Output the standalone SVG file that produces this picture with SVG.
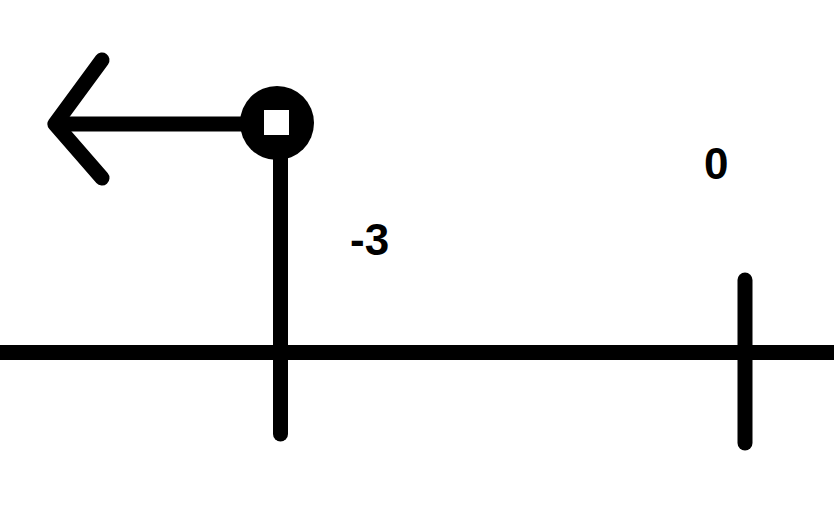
<svg xmlns="http://www.w3.org/2000/svg" width="834" height="520" viewBox="0 0 834 520">
  <style>
    .ln { stroke: #000; stroke-width: 15; fill: none; }
    .rc { stroke-linecap: round; stroke-linejoin: round; }
    .lbl { font-family: "Liberation Sans", Arial, sans-serif; font-weight: bold; font-size: 44px; fill: #000; }
  </style>
  <rect x="0" y="0" width="834" height="520" fill="#fff"/>
  <g id="connectors">
    <line id="axis" class="ln" x1="0" y1="352.5" x2="834" y2="352.5"/>
    <line id="stem" class="ln rc" x1="280.5" y1="123" x2="280.5" y2="434"/>
    <line id="ray" class="ln" x1="55" y1="124" x2="250" y2="124"/>
    <polyline id="arrowhead" class="ln rc" points="102,60 55,124 102,178"/>
  </g>
  <g id="tick-zero">
    <line class="ln rc" x1="745" y1="280" x2="745" y2="443"/>
    <text class="lbl" x="704" y="179">0</text>
  </g>
  <g id="point-minus3">
    <circle cx="277" cy="123" r="37" fill="#000"/>
    <rect x="264" y="110" width="25" height="25" fill="#fff"/>
    <text class="lbl" x="350" y="255">-3</text>
  </g>
</svg>
